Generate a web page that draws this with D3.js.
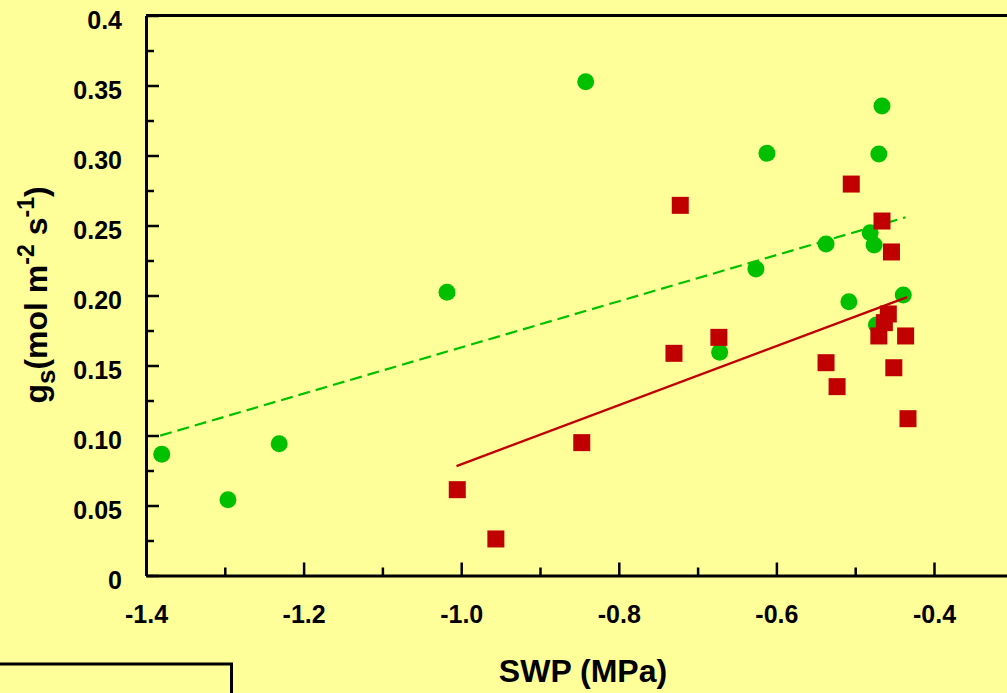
<!DOCTYPE html>
<html>
<head>
<meta charset="utf-8">
<script src="https://cdn.jsdelivr.net/npm/d3@7"></script>
<style>
  body { margin: 0; background: #ffff99; overflow: hidden; }
  svg { display: block; font-family: Arial, "Liberation Sans", sans-serif; font-weight: bold; }
</style>
</head>
<body>
<div id="chart"></div>
<script>
// green circles
const greenSWP = [-1.380, -1.296, -1.231, -1.018, -0.842, -0.672, -0.626, -0.612,
                  -0.537, -0.508, -0.481, -0.476, -0.470, -0.466, -0.439, -0.473];
const greenGs  = [0.0866, 0.0541, 0.0941, 0.2023, 0.3527, 0.1594, 0.2189, 0.3016,
                  0.2368, 0.1956, 0.2449, 0.2361, 0.3011, 0.3354, 0.2004, 0.1789];
// red squares
const redSWP = [-1.005, -0.956, -0.847, -0.730, -0.722, -0.673, -0.537, -0.523, -0.505,
                -0.466, -0.454, -0.470, -0.463, -0.458, -0.451, -0.436, -0.433];
const redGs  = [0.0613, 0.0261, 0.0949, 0.1587, 0.2644, 0.1701, 0.1520, 0.1349, 0.2796,
                0.2532, 0.2311, 0.1711, 0.1806, 0.1868, 0.1484, 0.1711, 0.1120];
// regression lines (end points)
const greenFitSWP = [-1.382, -0.436];
const greenFitGs  = [0.0999, 0.2559];
const redFitSWP = [-1.006, -0.434];
const redFitGs  = [0.0782, 0.1989];

const xTicks = [-1.4, -1.2, -1.0, -0.8, -0.6, -0.4];
const xTickLabels = ["-1.4", "-1.2", "-1.0", "-0.8", "-0.6", "-0.4"];
const xMinor = [-1.3, -1.1, -0.9, -0.7, -0.5];
const yTicks = [0, 0.05, 0.10, 0.15, 0.20, 0.25, 0.30, 0.35, 0.4];
const yTickLabels = ["0", "0.05", "0.10", "0.15", "0.20", "0.25", "0.30", "0.35", "0.4"];
const yMinor = [0.025, 0.075, 0.125, 0.175, 0.225, 0.275, 0.325, 0.375];

const W = 1007, H = 693;
const margin = {top: 15.5, left: 146},
    width = 1.1 * 788,
    height = 560;

const svg = d3.select("#chart")
  .append("svg")
    .attr("width", W)
    .attr("height", H);

svg.append("rect").attr("width", W).attr("height", H).attr("fill", "#ffff99");

const g = svg.append("g")
    .attr("transform", "translate(" + margin.left + "," + margin.top + ")");

const x = d3.scaleLinear().domain([-1.4, -0.3]).range([0, width]);
const y = d3.scaleLinear().domain([0, 0.4]).range([height, 0]);

// top border
g.append("line")
  .attr("x1", 0).attr("x2", width)
  .attr("y1", 0).attr("y2", 0)
  .attr("stroke", "#000").attr("stroke-width", 3);

// minor ticks
g.append("g")
  .attr("transform", "translate(0," + height + ")")
  .call(d3.axisBottom(x).tickValues(xMinor).tickSize(-8).tickFormat(""))
  .call(a => a.select(".domain").remove())
  .selectAll("line").attr("stroke-width", 2.5);
g.append("g")
  .call(d3.axisLeft(y).tickValues(yMinor).tickSize(-8).tickFormat(""))
  .call(a => a.select(".domain").remove())
  .selectAll("line").attr("stroke-width", 2.5);

// X axis
const xAxis = g.append("g")
  .attr("transform", "translate(0," + height + ")")
  .call(d3.axisBottom(x).tickValues(xTicks).tickSizeInner(-13).tickSizeOuter(0)
        .tickPadding(30).tickFormat((d, i) => xTickLabels[i]));
xAxis.select(".domain").attr("stroke-width", 3);
xAxis.selectAll("line").attr("stroke-width", 2.5);
xAxis.selectAll("text").attr("font-size", 25).attr("font-family", null).attr("fill", "#000");

// Y axis
const yAxis = g.append("g")
  .call(d3.axisLeft(y).tickValues(yTicks).tickSizeInner(-13).tickSizeOuter(0)
        .tickPadding(24).tickFormat((d, i) => yTickLabels[i]));
yAxis.select(".domain").attr("stroke-width", 3);
yAxis.selectAll("line").attr("stroke-width", 2.5);
yAxis.selectAll("text").attr("font-size", 25).attr("font-family", null)
  .attr("fill", "#000").attr("dy", "0.5em");

// points
g.selectAll(".green")
  .data(d3.range(greenSWP.length))
  .join("circle")
    .attr("cx", i => x(greenSWP[i]))
    .attr("cy", i => y(greenGs[i]))
    .attr("r", 8.5)
    .attr("fill", "#00c000");

const line = d3.line().x(d => x(d[0])).y(d => y(d[1]));

g.append("path")
  .datum(d3.zip(greenFitSWP, greenFitGs))
  .attr("fill", "none")
  .attr("stroke", "#00c000")
  .attr("stroke-width", 2.2)
  .attr("stroke-dasharray", "12,6")
  .attr("d", line);

g.append("path")
  .datum(d3.zip(redFitSWP, redFitGs))
  .attr("fill", "none")
  .attr("stroke", "#c00000")
  .attr("stroke-width", 2.4)
  .attr("d", line);

g.selectAll(".red")
  .data(d3.range(redSWP.length))
  .join("rect")
    .attr("x", i => x(redSWP[i]) - 8.5)
    .attr("y", i => y(redGs[i]) - 8.5)
    .attr("width", 17)
    .attr("height", 17)
    .attr("fill", "#c00000");

// axis titles
svg.append("text")
  .attr("x", 583).attr("y", 682)
  .attr("text-anchor", "middle")
  .attr("font-size", 32)
  .text("SWP (MPa)");

const yt = svg.append("text")
  .attr("transform", "translate(47,295) rotate(-90)")
  .attr("text-anchor", "middle")
  .attr("font-size", 32);
yt.append("tspan").text("g");
yt.append("tspan").attr("font-size", 26).attr("dy", 8).text("s");
yt.append("tspan").attr("dy", -8).text("(mol m");
yt.append("tspan").attr("font-size", 23).attr("dy", -13).text("-2");
yt.append("tspan").attr("dy", 13).text(" s");
yt.append("tspan").attr("font-size", 23).attr("dy", -13).text("-1");
yt.append("tspan").attr("dy", 13).text(")");

// legend box (cut off at the bottom)
svg.append("rect")
  .attr("x", -5).attr("y", 664)
  .attr("width", 236.5).attr("height", 60)
  .attr("fill", "none")
  .attr("stroke", "#000")
  .attr("stroke-width", 3);
</script>
</body>
</html>
